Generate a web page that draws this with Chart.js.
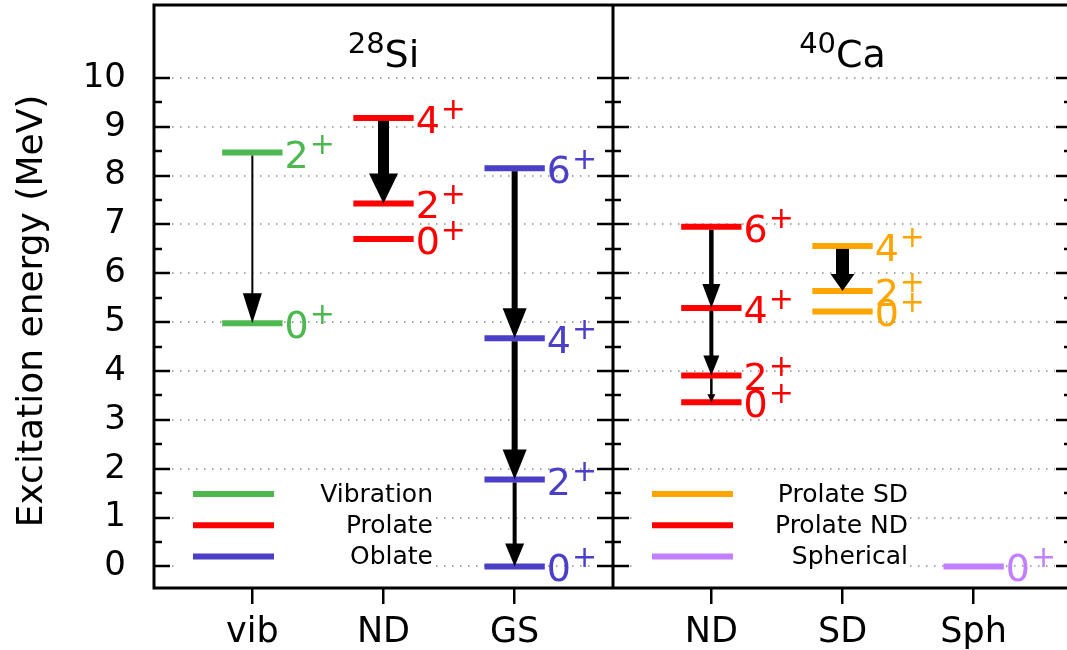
<!DOCTYPE html>
<html>
<head>
<meta charset="utf-8">
<script src="https://cdn.jsdelivr.net/npm/chart.js@4.4.1/dist/chart.umd.min.js"></script>
<style>
  html, body { margin: 0; padding: 0; overflow: hidden; background: #fff; }
  #wrap { position: absolute; left: 0; top: 0; width: 1080px; height: 650px; }
</style>
</head>
<body>
<div id="wrap"><canvas id="levelChart"></canvas></div>
<script>
// band names (x categories) for each nucleus
const siBands = ['vib', 'ND', 'GS'];
const caBands = ['ND', 'SD', 'Sph'];
const yTickValues = [0, 1, 2, 3, 4, 5, 6, 7, 8, 9, 10];
const panelTitles = [['28', 'Si'], ['40', 'Ca']];
const yTitle = 'Excitation energy (MeV)';

// levels: spins and excitation energies (MeV)
const siVibSpins = [2, 0];
const siVibEnergies = [8.47, 4.98];
const siNdSpins = [4, 2, 0];
const siNdEnergies = [9.18, 7.43, 6.70];
const siGsSpins = [6, 4, 2, 0];
const siGsEnergies = [8.15, 4.67, 1.78, 0.0];
const caNdSpins = [6, 4, 2, 0];
const caNdEnergies = [6.95, 5.29, 3.91, 3.36];
const caSdSpins = [4, 2, 0];
const caSdEnergies = [6.56, 5.64, 5.22];
const caSphSpins = [0];
const caSphEnergies = [0.0];

// transitions: [band index, spin from, spin to]
const siTransitions = [[0, 2, 0], [1, 4, 2], [2, 6, 4], [2, 4, 2], [2, 2, 0]];
const caTransitions = [[0, 6, 4], [0, 4, 2], [0, 2, 0], [1, 4, 2]];

const siLegend = ['Vibration', 'Prolate', 'Oblate'];
const caLegend = ['Prolate SD', 'Prolate ND', 'Spherical'];

const COLORS = {
  green: '#4cb84f',
  red: '#ff0000',
  blue: '#4b3fc8',
  orange: '#ffa500',
  purple: '#c080ff',
};
const FONT = "'DejaVu Sans', Verdana, sans-serif";
const HALF = 0.23;

const bands = [
  { panel: 0, slot: 0, spins: siVibSpins, energies: siVibEnergies, color: COLORS.green },
  { panel: 0, slot: 1, spins: siNdSpins, energies: siNdEnergies, color: COLORS.red },
  { panel: 0, slot: 2, spins: siGsSpins, energies: siGsEnergies, color: COLORS.blue },
  { panel: 1, slot: 0, spins: caNdSpins, energies: caNdEnergies, color: COLORS.red },
  { panel: 1, slot: 1, spins: caSdSpins, energies: caSdEnergies, color: COLORS.orange },
  { panel: 1, slot: 2, spins: caSphSpins, energies: caSphEnergies, color: COLORS.purple },
];
const bandX = b => b.panel * 3.5 + b.slot + 0.75;

// arrow look: [shaft width, head width, head length] in px
const arrowStyle = [
  [2, 19, 30], [11, 29, 30], [6, 24, 30], [6, 24, 30], [4, 19, 23],
  [4.5, 18, 24], [4, 16, 20], [2.5, 8, 8], [13, 24, 17]
];

const transitions = [
  ...siTransitions.map(t => [bands[t[0]], t[1], t[2]]),
  ...caTransitions.map(t => [bands[3 + t[0]], t[1], t[2]]),
];

function levelPoints(b) {
  const pts = [];
  const cx = bandX(b);
  b.energies.forEach(e => {
    pts.push({ x: cx - HALF, y: e }, { x: cx + HALF, y: e }, { x: cx, y: null });
  });
  return pts;
}

function energyOf(b, spin) {
  return b.energies[b.spins.indexOf(spin)];
}

function drawSpin(ctx, spin, x, y, color) {
  ctx.fillStyle = color;
  ctx.textAlign = 'left';
  ctx.textBaseline = 'alphabetic';
  ctx.font = `38px ${FONT}`;
  const t = String(spin);
  ctx.fillText(t, x, y + 15);
  const w = ctx.measureText(t).width;
  ctx.font = `30px ${FONT}`;
  ctx.fillText('+', x + w + 1, y + 1);
}

const schemePlugin = {
  id: 'scheme',
  beforeDatasetsDraw(chart) {
    const { ctx, chartArea: a, scales: { x, y } } = chart;
    const mid = x.getPixelForValue(3.5);
    ctx.save();
    ctx.strokeStyle = '#8c8c8c';
    ctx.lineWidth = 1.5;
    ctx.setLineDash([1.5, 6.5]);
    yTickValues.forEach(v => {
      const py = Math.round(y.getPixelForValue(v));
      [[a.left + 18, mid - 17], [mid + 17, a.right - 17]].forEach(([x0, x1]) => {
        ctx.beginPath();
        ctx.moveTo(x0, py);
        ctx.lineTo(x1, py);
        ctx.stroke();
      });
    });
    ctx.restore();
  },
  afterDatasetsDraw(chart) {
    const { ctx, chartArea: a, scales: { x, y } } = chart;
    const mid = x.getPixelForValue(3.5);
    ctx.save();

    // arrows
    ctx.fillStyle = '#000';
    transitions.forEach(([b, from, to], i) => {
      const [sw, hw, hl] = arrowStyle[i];
      const px = x.getPixelForValue(bandX(b));
      const y0 = y.getPixelForValue(energyOf(b, from)) + 3;
      const y1 = y.getPixelForValue(energyOf(b, to));
      ctx.fillRect(px - sw / 2, y0, sw, y1 - hl - y0 + 1);
      ctx.beginPath();
      ctx.moveTo(px - hw / 2, y1 - hl);
      ctx.lineTo(px + hw / 2, y1 - hl);
      ctx.lineTo(px, y1);
      ctx.closePath();
      ctx.fill();
    });

    // spin labels
    bands.forEach(b => {
      const xr = x.getPixelForValue(bandX(b) + HALF);
      b.energies.forEach((e, j) => drawSpin(ctx, b.spins[j], xr + 2, y.getPixelForValue(e), b.color));
    });

    // legends
    const legends = [
      { left: a.left, items: siLegend, cols: [bands[0], bands[1], bands[2]], textRight: 279, boxW: 262 },
      { left: mid, items: caLegend, cols: [bands[4], bands[3], bands[5]], textRight: 295, boxW: 277 },
    ];
    legends.forEach(lg => {
      ctx.fillStyle = '#fff';
      ctx.fillRect(lg.left + 20, a.bottom - 110, lg.boxW, 94);
      lg.items.forEach((txt, i) => {
        const ry = a.bottom - 94 + i * 31.3;
        ctx.strokeStyle = lg.cols[i].color;
        ctx.lineWidth = 6;
        ctx.beginPath();
        ctx.moveTo(lg.left + 39, ry);
        ctx.lineTo(lg.left + 120, ry);
        ctx.stroke();
        ctx.fillStyle = '#000';
        ctx.font = `25px ${FONT}`;
        ctx.textAlign = 'right';
        ctx.textBaseline = 'middle';
        ctx.fillText(txt, lg.left + lg.textRight, ry + 1);
      });
    });

    // frame
    ctx.strokeStyle = '#000';
    ctx.lineWidth = 3;
    ctx.strokeRect(a.left, a.top, a.right - a.left, a.bottom - a.top);
    ctx.beginPath();
    ctx.moveTo(mid, a.top);
    ctx.lineTo(mid, a.bottom);
    ctx.stroke();

    // y ticks (major + minor), mirrored on each vertical line
    ctx.lineWidth = 2.5;
    for (let v = 0; v <= 10; v += 0.5) {
      const py = Math.round(y.getPixelForValue(v));
      const len = Number.isInteger(v) ? 16 : 8;
      [[a.left, 1], [mid, -1], [mid, 1], [a.right, -1]].forEach(([px, dir]) => {
        ctx.beginPath();
        ctx.moveTo(px, py);
        ctx.lineTo(px + dir * len, py);
        ctx.stroke();
      });
    }

    // panel titles
    ctx.fillStyle = '#000';
    ctx.textAlign = 'left';
    ctx.textBaseline = 'alphabetic';
    [(a.left + mid) / 2, (mid + a.right) / 2].forEach((cx, i) => {
      const [sup, name] = panelTitles[i];
      ctx.font = `29px ${FONT}`;
      const ws = ctx.measureText(sup).width;
      ctx.font = `38px ${FONT}`;
      const wn = ctx.measureText(name).width;
      const x0 = cx - (ws + wn) / 2;
      ctx.font = `29px ${FONT}`;
      ctx.fillText(sup, x0, a.top + 48);
      ctx.font = `38px ${FONT}`;
      ctx.fillText(name, x0 + ws, a.top + 62);
    });

    // y axis title
    ctx.save();
    ctx.translate(33, 311);
    ctx.rotate(-Math.PI / 2);
    ctx.textAlign = 'center';
    ctx.textBaseline = 'middle';
    ctx.font = `36px ${FONT}`;
    ctx.fillText(yTitle, 0, 0);
    ctx.restore();

    ctx.restore();
  }
};

const allBands = [...siBands, ...caBands];

const data = {
  datasets: bands.map(b => ({
    data: levelPoints(b),
    borderColor: b.color,
    backgroundColor: b.color,
    borderWidth: 6,
    borderCapStyle: 'butt',
    pointRadius: 0,
    showLine: true,
    spanGaps: false,
  }))
};

const config = {
  type: 'line',
  data: data,
  options: {
    responsive: true,
    maintainAspectRatio: false,
    animation: false,
    devicePixelRatio: 1,
    layout: { padding: { left: 0, top: 5, right: 8, bottom: 0 } },
    plugins: {
      legend: { display: false },
      tooltip: { enabled: false },
    },
    events: [],
    scales: {
      x: {
        type: 'linear',
        min: 0,
        max: 7,
        afterBuildTicks: scale => {
          scale.ticks = allBands.map((_, i) => ({ value: i < 3 ? i + 0.75 : i + 1.25 }));
        },
        afterFit: scale => {
          scale.height = 62;
          scale.paddingLeft = 0;
          scale.paddingRight = 0;
        },
        grid: {
          drawOnChartArea: false,
          drawTicks: true,
          tickLength: 16,
          color: '#000',
          lineWidth: 2.5,
        },
        border: { display: false },
        ticks: {
          autoSkip: false,
          maxRotation: 0,
          minRotation: 0,
          padding: 8,
          color: '#000',
          font: { family: FONT, size: 35 },
          callback: (value, index) => allBands[index],
        },
      },
      y: {
        type: 'linear',
        min: -0.44,
        max: 11.49,
        afterBuildTicks: scale => {
          scale.ticks = yTickValues.map(v => ({ value: v }));
        },
        afterFit: scale => {
          scale.width = 154;
          scale.paddingTop = 0;
          scale.paddingBottom = 0;
        },
        grid: { display: false },
        border: { display: false },
        ticks: {
          padding: 20,
          color: '#000',
          font: { family: FONT, size: 34 },
          callback: v => String(v),
        },
      },
    },
  },
  plugins: [schemePlugin]
};

const ctx = document.getElementById('levelChart').getContext('2d');
const chartInstance = new Chart(ctx, config);
</script>
</body>
</html>
